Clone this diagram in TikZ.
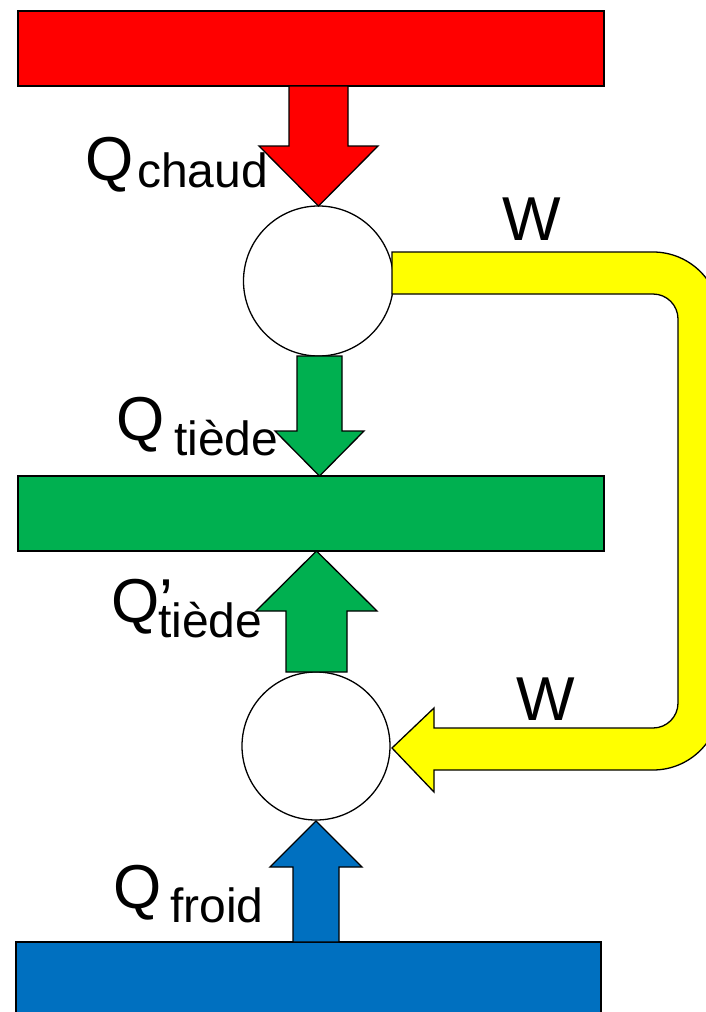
\documentclass[tikz,border=0pt]{standalone}
\usepackage{fontspec}
\setmainfont{Liberation Sans}
\definecolor{hotred}{HTML}{FF0000}
\definecolor{warmgreen}{HTML}{00B050}
\definecolor{coldblue}{HTML}{0070C0}
\definecolor{workyellow}{HTML}{FFFF00}
\tikzset{
  outline/.style={draw=black, line width=1.3pt, line join=miter},
  reservoir/.style={outline, rectangle, inner sep=0pt},
  engine/.style={outline, circle, fill=white, inner sep=0pt, minimum size=149pt},
  big/.style={inner sep=0pt, anchor=base west, font=\fontsize{62}{62}\selectfont},
  small/.style={inner sep=0pt, anchor=base west, font=\fontsize{48}{48}\selectfont},
}
\begin{document}
\begin{tikzpicture}[x=1pt, y=-1pt]
\useasboundingbox (0,0) rectangle (706,1012);
\clip (0,0) rectangle (706,1012);
\fill[white] (0,0) rectangle (706,1012);

% reservoirs
\node[reservoir, fill=hotred, minimum width=586pt, minimum height=75pt] (hot) at (311,48.5) {};
\node[reservoir, fill=warmgreen, minimum width=586pt, minimum height=75pt] (warm) at (311,513.5) {};
\node[reservoir, fill=coldblue, minimum width=585pt, minimum height=100pt] (cold) at (308.5,992) {};

% the two engines
\node[engine, minimum size=150pt] (eng1) at (318.5,281) {};
\node[engine, minimum size=148pt] (eng2) at (316,746) {};

% heat flows
\draw[outline, fill=hotred] (289,86) -- (289,146) -- (259,146) -- (318.5,206)
  -- (378,146) -- (348,146) -- (348,86) -- cycle;
\draw[outline, fill=warmgreen] (297,356) -- (297,431) -- (275,431) -- (319.5,476)
  -- (364,431) -- (342,431) -- (342,356) -- cycle;
\draw[outline, fill=warmgreen] (286,672) -- (286,611) -- (256,611) -- (316.5,551)
  -- (377,611) -- (347,611) -- (347,672) -- cycle;
\draw[outline, fill=coldblue] (293,942) -- (293,867) -- (270,867) -- (316,821)
  -- (362,867) -- (339,867) -- (339,942) -- cycle;

% work carried from the first engine to the second
\draw[outline, fill=workyellow] (392,252) -- (653,252)
  arc[start angle=-90, end angle=0, radius=67] -- (720,703)
  arc[start angle=0, end angle=90, radius=67] -- (434,770) -- (434,792)
  -- (392,748) -- (434,708) -- (434,728) -- (653,728)
  arc[start angle=90, end angle=0, radius=25] -- (678,319)
  arc[start angle=0, end angle=-90, radius=25] -- (392,294) -- cycle;

% labels
\node[big] (qc) at (85,180) {Q};
\node[small] (qcs) at (137,187) {chaud};
\node[big] (w1) at (502,240) {W};
\node[big] (w2) at (516,720) {W};
\node[big] (qt) at (116,440) {Q};
\node[small] (qts) at (174,455) {tiède};
\node[big] (qp) at (111,622) {Q’};
\node[small] (qps) at (158,637) {tiède};
\node[big] (qf) at (113,908) {Q};
\node[small] (qfs) at (170,922) {froid};
\end{tikzpicture}
\end{document}
